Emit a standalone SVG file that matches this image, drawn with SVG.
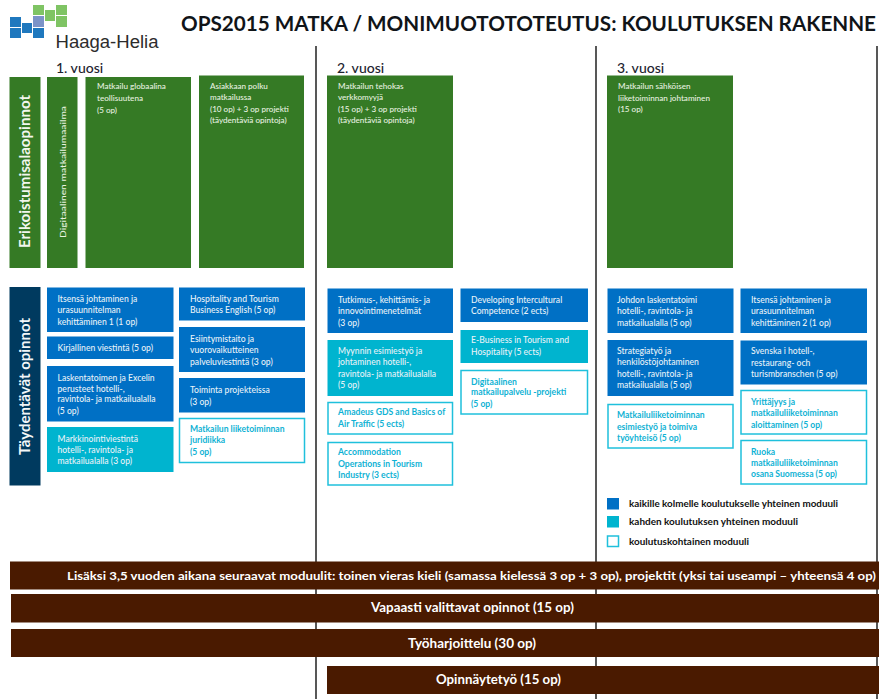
<svg xmlns="http://www.w3.org/2000/svg" width="879" height="699" viewBox="0 0 879 699">
<style>
text{font-family:Lato,"Open Sans","Liberation Sans",sans-serif}
.g{fill:#357a25}
.b{fill:#0070c5}
.t{fill:#00b4cf}
.w{fill:#fff;stroke:#1fc0dc;stroke-width:1.5}
.d{fill:#003a5f}
.br{fill:#4a1a00}
.lab{font-size:8.6px;fill:#e8f2f8;font-weight:500}
.labw{font-size:8.6px;fill:#0fb2d4;font-weight:700}
.gl{font-size:8.100px;fill:#e8f2e0;font-weight:500}
.yr{font-size:14px;fill:#1d2430;font-weight:500}
.bar{font-size:13.500px;fill:#fff;font-weight:700}
.leg{font-size:8.700px;fill:#111;font-weight:700}
.v{stroke:#111;stroke-width:1.4}
</style>
<rect width="879" height="699" fill="#fff"/>
<g id="connectors">
<line class="v" x1="316" y1="46" x2="316" y2="699"/>
<line class="v" x1="596" y1="46" x2="596" y2="699"/>
<line class="v" x1="877" y1="46" x2="877" y2="699"/>
</g>
<g id="logo">
<rect x="33" y="5" width="11" height="10" fill="#7fc464"/>
<rect x="45" y="10" width="10" height="11" fill="#7fc464"/>
<rect x="56" y="5" width="11" height="10" fill="#7fc464"/>
<rect x="56" y="16" width="11" height="11" fill="#7fc464"/>
<rect x="33" y="16" width="11" height="11" fill="#7b93c8"/>
<rect x="10" y="17" width="11" height="10" fill="#1f78be"/>
<rect x="10" y="28" width="11" height="10" fill="#1f78be"/>
<rect x="22" y="23" width="10" height="10" fill="#1f78be"/>
<rect x="33" y="28" width="11" height="10" fill="#1f78be"/>
<text x="55.500" y="48" font-size="17.500" style="font-family:'Liberation Sans',sans-serif" fill="#2c2c2c" textLength="103" lengthAdjust="spacingAndGlyphs">Haaga-Helia</text>
</g>
<g id="title"><text x="181" y="31" font-size="20.500" font-weight="700" fill="#101418" textLength="695" lengthAdjust="spacingAndGlyphs">OPS2015 MATKA / MONIMUOTOTOTEUTUS: KOULUTUKSEN RAKENNE</text></g>
<g id="years">
<text class="yr" x="56" y="73">1. vuosi</text>
<text class="yr" x="337" y="73">2. vuosi</text>
<text class="yr" x="617" y="73">3. vuosi</text>
</g>
<g id="n-erik"><rect class="g" x="9.500" y="77" width="31" height="191"/><text transform="translate(30,248) rotate(-90)" font-size="15.500" fill="#f2f6ee" font-weight="700" textLength="153" lengthAdjust="spacingAndGlyphs">Erikoistumisalaopinnot</text></g>
<g id="n-digi"><rect class="g" x="47" y="77" width="30.500" height="191"/><text transform="translate(65.500,238) rotate(-90)" font-size="7.500" fill="#e8f2e0" font-weight="500" textLength="132" lengthAdjust="spacingAndGlyphs">Digitaalinen matkailumaailma</text></g>
<g id="n-glob"><rect class="g" x="85.500" y="77" width="105.500" height="191"/><text class="gl" x="97" y="89">Matkailu globaalina</text><text class="gl" x="97" y="101">teollisuutena</text><text class="gl" x="97" y="113">(5 op)</text></g>
<g id="n-polku"><rect class="g" x="199" y="75.500" width="105" height="192.500"/><text class="gl" x="210" y="89">Asiakkaan polku</text><text class="gl" x="210" y="100">matkailussa</text><text class="gl" x="210" y="112">(10 op) + 3 op projekti</text><text class="gl" x="210" y="123">(täydentäviä opintoja)</text></g>
<g id="n-verkko"><rect class="g" x="327" y="75.500" width="126" height="192.500"/><text class="gl" x="338" y="89">Matkailun tehokas</text><text class="gl" x="338" y="100">verkkomyyjä</text><text class="gl" x="338" y="112">(15 op) + 3 op projekti</text><text class="gl" x="338" y="123">(täydentäviä opintoja)</text></g>
<g id="n-sahko"><rect class="g" x="607" y="75.500" width="126" height="192.500"/><text class="gl" x="618" y="89">Matkailun sähköisen</text><text class="gl" x="618" y="101">liiketoiminnan johtaminen</text><text class="gl" x="618" y="112">(15 op)</text></g>
<g id="n-tayd"><rect class="d" x="9.500" y="287" width="31" height="198.500"/><text transform="translate(30,455) rotate(-90)" font-size="15.500" fill="#f2f6f8" font-weight="700" textLength="137" lengthAdjust="spacingAndGlyphs">Täydentävät opinnot</text></g>

<g id="a1"><rect class="b" x="47" y="287.500" width="126.500" height="44.500"/><text class="lab" x="57.500" y="302">Itsensä johtaminen ja</text><text class="lab" x="57.500" y="313">urasuunnitelman</text><text class="lab" x="57.500" y="325">kehittäminen 1 (1 op)</text></g>
<g id="a2"><rect class="b" x="47" y="336.500" width="126.500" height="22.500"/><text class="lab" x="57.500" y="351">Kirjallinen viestintä (5 op)</text></g>
<g id="a3"><rect class="b" x="47" y="366" width="126.500" height="55.500"/><text class="lab" x="57.500" y="381">Laskentatoimen ja Excelin</text><text class="lab" x="57.500" y="392">perusteet hotelli-,</text><text class="lab" x="57.500" y="402">ravintola- ja matkailualalla</text><text class="lab" x="57.500" y="414">(5 op)</text></g>
<g id="a4"><rect class="t" x="47" y="427" width="126.500" height="45"/><text class="lab" x="57.500" y="442">Markkinointiviestintä</text><text class="lab" x="57.500" y="453">hotelli-, ravintola- ja</text><text class="lab" x="57.500" y="464">matkailualalla (3 op)</text></g>
<g id="b1"><rect class="b" x="179" y="287.500" width="126" height="33"/><text class="lab" x="190" y="302">Hospitality and Tourism</text><text class="lab" x="190" y="313">Business English (5 op)</text></g>
<g id="b2"><rect class="b" x="179" y="327" width="126" height="45"/><text class="lab" x="190" y="342">Esiintymistaito ja</text><text class="lab" x="190" y="353">vuorovaikutteinen</text><text class="lab" x="190" y="365">palveluviestintä (3 op)</text></g>
<g id="b3"><rect class="b" x="179" y="378" width="126" height="34.500"/><text class="lab" x="190" y="393">Toiminta projekteissa</text><text class="lab" x="190" y="405">(3 op)</text></g>
<g id="b4"><rect class="w" x="179.500" y="418.500" width="125" height="44"/><text class="labw" x="190" y="432">Matkailun liiketoiminnan</text><text class="labw" x="190" y="443">juridiikka</text><text class="labw" x="190" y="455">(5 op)</text></g>

<g id="c1"><rect class="b" x="327.500" y="288.500" width="125.500" height="44.500"/><text class="lab" x="338" y="303">Tutkimus-, kehittämis- ja</text><text class="lab" x="338" y="314">innovointimenetelmät</text><text class="lab" x="338" y="326">(3 op)</text></g>
<g id="c2"><rect class="t" x="327.500" y="340" width="125.500" height="56"/><text class="lab" x="338" y="354">Myynnin esimiestyö ja</text><text class="lab" x="338" y="365">johtaminen hotelli-,</text><text class="lab" x="338" y="377">ravintola- ja matkailualalla</text><text class="lab" x="338" y="388">(5 op)</text></g>
<g id="c3"><rect class="w" x="328" y="402.500" width="124.500" height="31.500"/><text class="labw" x="338" y="415">Amadeus GDS and Basics of</text><text class="labw" x="338" y="427">Air Traffic (5 ects)</text></g>
<g id="c4"><rect class="w" x="328" y="442.500" width="124.500" height="42.500"/><text class="labw" x="338" y="455">Accommodation</text><text class="labw" x="338" y="467">Operations in Tourism</text><text class="labw" x="338" y="478">Industry (3 ects)</text></g>
<g id="d1"><rect class="b" x="460.500" y="288.500" width="127.500" height="33.500"/><text class="lab" x="471" y="303">Developing Intercultural</text><text class="lab" x="471" y="314">Competence (2 ects)</text></g>
<g id="d2"><rect class="t" x="460.500" y="330" width="127.500" height="33"/><text class="lab" x="471" y="343">E-Business in Tourism and</text><text class="lab" x="471" y="355">Hospitality (5 ects)</text></g>
<g id="d3"><rect class="w" x="461" y="370.500" width="126.500" height="43.500"/><text class="labw" x="471" y="385">Digitaalinen</text><text class="labw" x="471" y="395">matkailupalvelu -projekti</text><text class="labw" x="471" y="407">(5 op)</text></g>

<g id="e1"><rect class="b" x="607.500" y="288.500" width="126" height="44.500"/><text class="lab" x="617" y="303">Johdon laskentatoimi</text><text class="lab" x="617" y="314">hotelli-, ravintola- ja</text><text class="lab" x="617" y="326">matkailualalla (5 op)</text></g>
<g id="e2"><rect class="b" x="607.500" y="340" width="126" height="56"/><text class="lab" x="617" y="354">Strategiatyö ja</text><text class="lab" x="617" y="365">henkilöstöjohtaminen</text><text class="lab" x="617" y="377">hotelli-, ravintola- ja</text><text class="lab" x="617" y="388">matkailualalla (5 op)</text></g>
<g id="e3"><rect class="w" x="608" y="404.500" width="125" height="43.500"/><text class="labw" x="617" y="418">Matkailuliiketoiminnan</text><text class="labw" x="617" y="430">esimiestyö ja toimiva</text><text class="labw" x="617" y="441">työyhteisö (5 op)</text></g>
<g id="f1"><rect class="b" x="740.500" y="288.500" width="126.500" height="44.500"/><text class="lab" x="751" y="303">Itsensä johtaminen ja</text><text class="lab" x="751" y="314">urasuunnitelman</text><text class="lab" x="751" y="326">kehittäminen 2 (1 op)</text></g>
<g id="f2"><rect class="b" x="740.500" y="340.500" width="126.500" height="44"/><text class="lab" x="751" y="354">Svenska i hotell-,</text><text class="lab" x="751" y="366">restaurang- och</text><text class="lab" x="751" y="377">turismbranschen (5 op)</text></g>
<g id="f3"><rect class="w" x="741" y="390.500" width="125.500" height="43.500"/><text class="labw" x="751" y="405">Yrittäjyys ja</text><text class="labw" x="751" y="416">matkailuliiketoiminnan</text><text class="labw" x="751" y="428">aloittaminen (5 op)</text></g>
<g id="f4"><rect class="w" x="741" y="440.500" width="125.500" height="43.500"/><text class="labw" x="751" y="455">Ruoka</text><text class="labw" x="751" y="466">matkailuliiketoiminnan</text><text class="labw" x="751" y="477">osana Suomessa (5 op)</text></g>

<g id="legend">
<rect class="b" x="607" y="498" width="12" height="11.500"/><text class="leg" x="629" y="507" textLength="209" lengthAdjust="spacingAndGlyphs">kaikille kolmelle koulutukselle yhteinen moduuli</text>
<rect class="t" x="607" y="516" width="12" height="11.500"/><text class="leg" x="629" y="525" textLength="169" lengthAdjust="spacingAndGlyphs">kahden koulutuksen yhteinen moduuli</text>
<rect class="w" x="607.500" y="536" width="11" height="10.500"/><text class="leg" x="629" y="545" textLength="120" lengthAdjust="spacingAndGlyphs">koulutuskohtainen moduuli</text>
</g>
<g id="bar1"><rect class="br" x="10" y="561.500" width="869" height="28"/><text class="bar" x="67" y="580" font-size="12" style="font-size:12px" textLength="809" lengthAdjust="spacingAndGlyphs">Lisäksi 3,5 vuoden aikana seuraavat moduulit: toinen vieras kieli (samassa kielessä 3 op + 3 op), projektit (yksi tai useampi – yhteensä 4 op)</text></g>
<g id="bar2"><rect class="br" x="11" y="594" width="868" height="28.500"/><text class="bar" x="371" y="612" textLength="203" lengthAdjust="spacingAndGlyphs">Vapaasti valittavat opinnot (15 op)</text></g>
<g id="bar3"><rect class="br" x="11" y="629" width="868" height="28"/><text class="bar" x="408" y="648" textLength="128" lengthAdjust="spacingAndGlyphs">Työharjoittelu (30 op)</text></g>
<g id="bar4"><rect class="br" x="327" y="666" width="552" height="28"/><text class="bar" x="436" y="684" textLength="125" lengthAdjust="spacingAndGlyphs">Opinnäytetyö (15 op)</text></g>
</svg>
